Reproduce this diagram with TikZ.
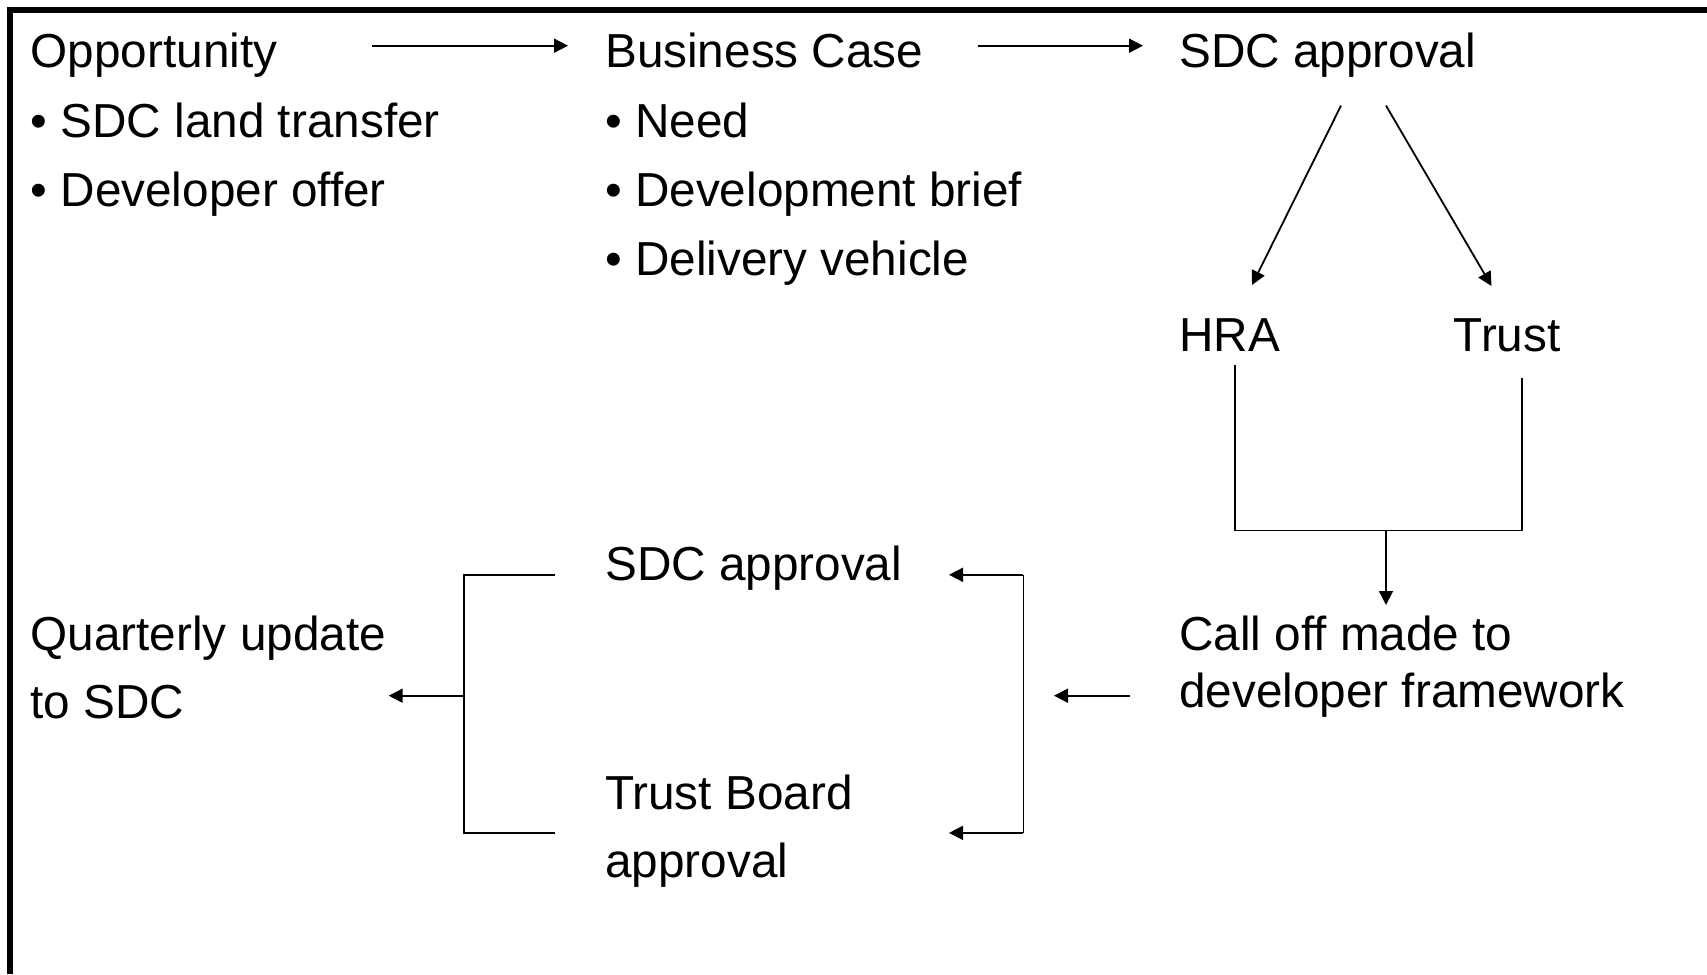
\documentclass[tikz,border=0pt]{standalone}
\usepackage{fontspec}
\setmainfont{Liberation Sans}
\usetikzlibrary{arrows.meta}
\begin{document}
\begin{tikzpicture}[x=1pt,y=-1pt,
  txt/.style={anchor=base west,inner sep=0pt,font=\fontsize{47.7}{57}\selectfont},
  conn/.style={line width=1.8pt,-{Triangle[length=14pt,width=14pt]}},
  plain/.style={line width=1.8pt}]
\useasboundingbox (0,0) rectangle (1707,974);
\fill[white] (0,0) rectangle (1707,974);
\draw[line width=6pt] (10,974) -- (10,10) -- (1707,10);
% texts
\node[txt] (opp) at (30.5,67.5) {Opportunity};
\node[txt] (opp1) at (30.5,137) {• SDC land transfer};
\node[txt] (opp2) at (30.5,206) {• Developer offer};
\node[txt] (bc) at (605,67.5) {Business Case};
\node[txt] (bc1) at (605,137) {• Need};
\node[txt] (bc2) at (605,206) {• Development brief};
\node[txt] (bc3) at (605,275) {• Delivery vehicle};
\node[txt] (sdc) at (1179,67.5) {SDC approval};
\node[txt] (hra) at (1179,351.5) {HRA};
\node[txt] (trust) at (1453.5,351.5) {Trust};
\node[txt] (call1) at (1179,650) {Call off made to};
\node[txt] (call2) at (1179,707.5) {developer framework};
\node[txt] (sdc2) at (605,580) {SDC approval};
\node[txt] (tb1) at (605,809) {Trust Board};
\node[txt] (tb2) at (605,877.5) {approval};
\node[txt] (q1) at (30.5,650) {Quarterly update};
\node[txt] (q2) at (30.5,718.5) {to SDC};
% connector end points
\coordinate (a1s) at (372,45.7);  \coordinate (a1e) at (568,45.7);
\coordinate (a2s) at (977.7,45.7); \coordinate (a2e) at (1143,45.7);
\coordinate (d1s) at (1341,105.6); \coordinate (d1e) at (1252,285);
\coordinate (d2s) at (1386,105.6); \coordinate (d2e) at (1491.5,286);
\coordinate (hb) at (1234.6,364.7); \coordinate (tb) at (1522,377.8);
\coordinate (jn) at (1386,530.5); \coordinate (jne) at (1386,605);
\coordinate (cs) at (1130,695.7); \coordinate (ce) at (1054,695.7);
\coordinate (rbt) at (1023.4,574.8); \coordinate (rbb) at (1023.4,832.9);
\coordinate (rte) at (949,574.8); \coordinate (rbe) at (949,832.9);
\coordinate (lbt) at (555,574.8); \coordinate (lbb) at (555,832.9);
\coordinate (lm) at (463.8,695.7); \coordinate (le) at (388.7,695.7);
% connectors
\draw[conn] (a1s) -- (a1e);
\draw[conn] (a2s) -- (a2e);
\draw[conn] (d1s) -- (d1e);
\draw[conn] (d2s) -- (d2e);
\draw[plain] (hb) -- (hb |- jn) -- (tb |- jn) -- (tb);
\draw[conn] (jn) -- (jne);
\draw[conn] (cs) -- (ce);
\draw[plain] (rbt) -- (rbb);
\draw[conn] (rbt) -- (rte);
\draw[conn] (rbb) -- (rbe);
\draw[plain] (lbt) -- (lm |- lbt) -- (lm |- lbb) -- (lbb);
\draw[conn] (lm) -- (le);
\end{tikzpicture}
\end{document}
